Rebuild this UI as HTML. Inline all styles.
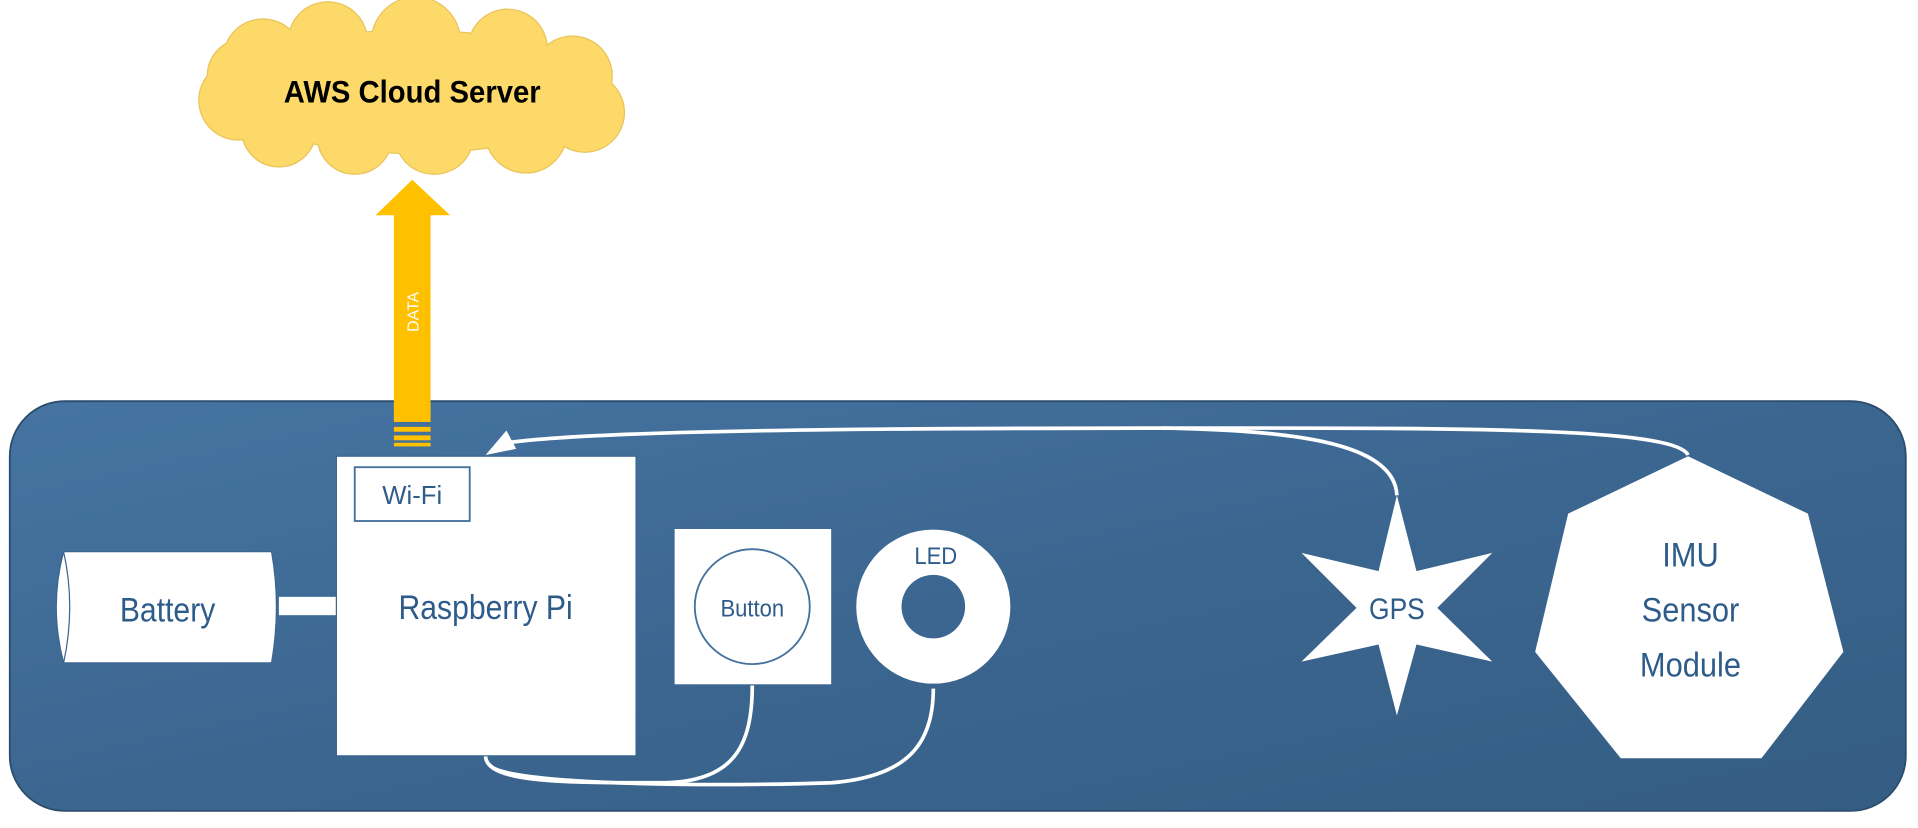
<!DOCTYPE html>
<html><head><meta charset="utf-8"><style>
html,body{margin:0;padding:0;background:#fff;}
svg{display:block;}
text{font-family:"Liberation Sans",sans-serif;}
</style></head><body>
<svg width="1918" height="828" viewBox="0 0 1568 677" preserveAspectRatio="none">
<defs>
<linearGradient id="bg" x1="0" y1="0" x2="1" y2="1">
<stop offset="0" stop-color="#4674a2"/><stop offset="0.5" stop-color="#3b6690"/><stop offset="1" stop-color="#355d83"/>
</linearGradient>
<g id="cl">
<circle cx="215" cy="48" r="32"/><circle cx="268" cy="34" r="32"/><circle cx="340" cy="34" r="36"/><circle cx="415" cy="40" r="32"/>
<circle cx="468" cy="62" r="32"/><circle cx="478" cy="92" r="32"/><circle cx="430" cy="108" r="33"/>
<circle cx="355" cy="110" r="32"/><circle cx="290" cy="112" r="30"/><circle cx="228" cy="106" r="30"/>
<circle cx="195" cy="82" r="32"/><circle cx="200" cy="62" r="30"/>
<ellipse cx="337" cy="75" rx="150" ry="50"/>
</g>
</defs>
<rect x="8" y="328" width="1550" height="335" rx="45" ry="45" fill="url(#bg)" stroke="#2c4d6e" stroke-width="1.5"/>

<g>
<use href="#cl" fill="#fdd969" stroke="#e8c45a" stroke-width="2"/>
<use href="#cl" fill="#fdd969"/>
</g>
<text x="337" y="84" text-anchor="middle" font-size="26" font-weight="bold" fill="#000" transform="translate(337 0) scale(0.92 1) translate(-337 0)">AWS Cloud Server</text>

<g fill="#ffc000">
<polygon points="307,176 337,147 368,176 352,176 352,345 322,345 322,176"/>
<rect x="322" y="349" width="30" height="4"/><rect x="322" y="356" width="30" height="4"/><rect x="322" y="362" width="30" height="3"/>
</g>
<text x="0" y="0" font-size="13" fill="#fff" text-anchor="middle" transform="translate(342 255) rotate(-90)">DATA</text>

<g fill="none" stroke="#fff" stroke-width="3">
<path d="M1380,372 C1370,350 1200,350 1000,350 C800,350 500,350 415,362"/>
<path d="M1142,405 C1140,360 1050,352 950,350"/>
<path d="M397,618 C397,640 460,640 540,640 C600,640 615,610 615,560"/>
<path d="M400,625 C410,643 600,643 680,640 C740,635 763,610 763,563"/>
</g>
<polygon points="397,372 414,352 422,367" fill="#fff"/>

<g fill="#fff" stroke="#3b6690" stroke-width="1">
<path d="M52,451 L222,451 Q230,496 222,542 L52,542 Q40,496 52,451 Z"/>
<path d="M52,451 Q62,496 52,542" fill="none"/>
</g>
<text x="137" y="508" text-anchor="middle" font-size="28" fill="#2e5c8a" transform="translate(137 0) scale(0.88 1) translate(-137 0)">Battery</text>
<rect x="228" y="488" width="47" height="15" fill="#fff"/>

<rect x="275" y="373" width="245" height="245" fill="#fff" stroke="#3b6690" stroke-width="1"/>
<rect x="290" y="382" width="94" height="44" fill="#fff" stroke="#41719c" stroke-width="1.5"/>
<text x="337" y="412" text-anchor="middle" font-size="21" fill="#2e5c8a">Wi-Fi</text>
<text x="397" y="506" text-anchor="middle" font-size="28" fill="#2e5c8a" transform="translate(397 0) scale(0.88 1) translate(-397 0)">Raspberry Pi</text>

<rect x="551" y="432" width="129" height="128" fill="#fff" stroke="#3b6690" stroke-width="1"/>
<circle cx="615" cy="496" r="47" fill="#fff" stroke="#41719c" stroke-width="1.5"/>
<text x="615" y="504" text-anchor="middle" font-size="20" fill="#2e5c8a" transform="translate(615 0) scale(0.9 1) translate(-615 0)">Button</text>

<path fill-rule="evenodd" fill="#fff" d="M700,496 a63,63 0 1,0 126,0 a63,63 0 1,0 -126,0 Z M737,496 a26,26 0 1,0 52,0 a26,26 0 1,0 -52,0 Z"/>
<text x="765" y="461" text-anchor="middle" font-size="20" fill="#2e5c8a" transform="translate(765 0) scale(0.9 1) translate(-765 0)">LED</text>

<polygon fill="#fff" points="1142,405 1158,467 1220,452 1175,497 1220,541 1158,527 1142,585 1127,527 1064,541 1109,497 1064,452 1127,467"/>
<text x="1142" y="506" text-anchor="middle" font-size="24" fill="#2e5c8a" transform="translate(1142 0) scale(0.9 1) translate(-1142 0)">GPS</text>

<polygon fill="#fff" points="1380,373 1478,420 1507,533 1440,620 1325,620 1255,533 1282,420"/>
<g font-size="28" fill="#2e5c8a" text-anchor="middle" transform="translate(1382 0) scale(0.9 1) translate(-1382 0)">
<text x="1382" y="463">IMU</text><text x="1382" y="508">Sensor</text><text x="1382" y="553">Module</text>
</g>
</svg>
</body></html>
